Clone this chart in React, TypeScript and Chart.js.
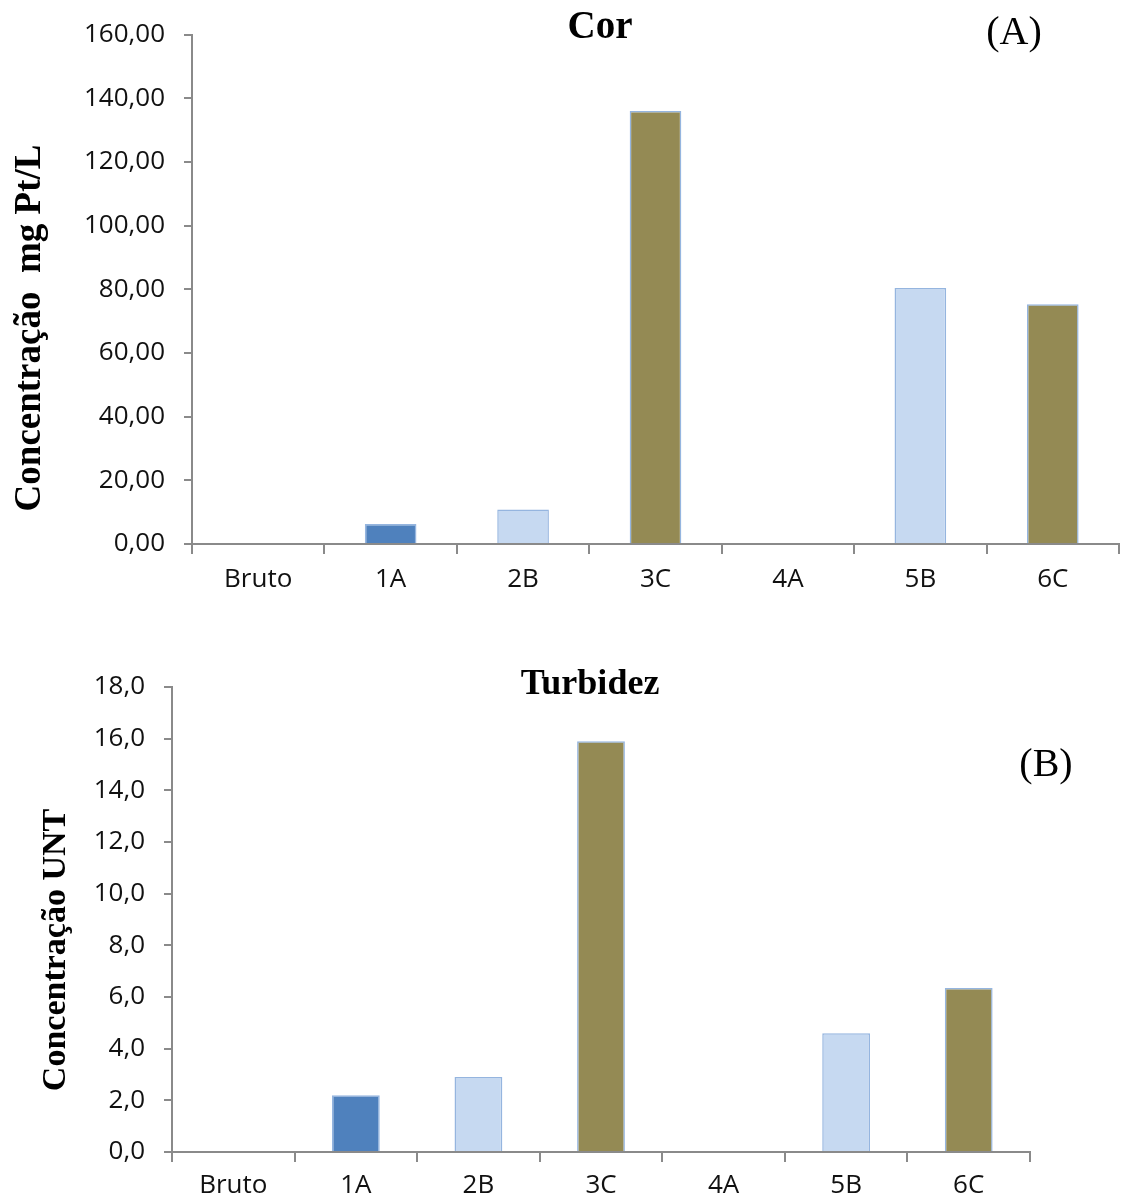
import React, { useEffect, useRef } from "react";
import { Chart, registerables } from "chart.js";

Chart.register(...registerables);

const categories = ["Bruto", "1A", "2B", "3C", "4A", "5B", "6C"];
const corValues = [0, 6.3, 10.8, 136.0, 0, 80.4, 75.3];
const turbidezValues = [0, 2.2, 2.9, 15.9, 0, 4.6, 6.35];
const barColors = ["#4F81BD", "#4F81BD", "#C6D9F1", "#948A54", "#4F81BD", "#C6D9F1", "#948A54"];
const corTicks = { min: 0, max: 160, step: 20, decimals: 2 };
const turbTicks = { min: 0, max: 18, step: 2, decimals: 1 };

const TICK_FONT = { family: "'Open Sans', 'Noto Sans', sans-serif", size: 26 };
const TICK_COLOR = "#111111";
const AXIS_COLOR = "#8a8a8a";

const textPlugin = {
  id: "extraText",
  afterDraw(chart: any, _args: any, opts: any) {
    const ctx = chart.ctx;
    for (const t of (opts && opts.items) || []) {
      ctx.save();
      ctx.translate(t.x, t.y);
      if (t.rotate) ctx.rotate(t.rotate);
      ctx.font = t.font;
      ctx.fillStyle = t.color || "#000";
      ctx.textAlign = "center";
      ctx.textBaseline = "middle";
      ctx.fillText(t.text, 0, 0);
      ctx.restore();
    }
  },
};

function makeConfig(
  values: number[],
  ticksDef: { min: number; max: number; step: number; decimals: number },
  yWidth: number,
  xHeight: number,
  padding: any,
  labelPad: number,
  items: any[]
): any {
  return {
    type: "bar",
    data: {
      labels: categories,
      datasets: [
        {
          data: values,
          backgroundColor: barColors,
          borderColor: "#95B5DF",
          borderWidth: 1.5,
          barPercentage: 0.39,
          categoryPercentage: 1,
        },
      ],
    },
    plugins: [textPlugin],
    options: {
      animation: false,
      responsive: false,
      maintainAspectRatio: false,
      layout: { padding },
      plugins: {
        legend: { display: false },
        tooltip: { enabled: false },
        title: { display: false },
        extraText: { items },
      },
      scales: {
        x: {
          offset: true,
          grid: {
            offset: true,
            drawOnChartArea: false,
            drawTicks: true,
            tickLength: 10,
            color: AXIS_COLOR,
            lineWidth: 2,
          },
          border: { display: true, color: AXIS_COLOR, width: 2 },
          ticks: { color: TICK_COLOR, font: TICK_FONT, padding: labelPad, maxRotation: 0, autoSkip: false },
          afterFit: (s: any) => {
            s.height = xHeight;
          },
        },
        y: {
          min: ticksDef.min,
          max: ticksDef.max,
          grid: {
            drawOnChartArea: false,
            drawTicks: true,
            tickLength: 8,
            color: AXIS_COLOR,
            lineWidth: 2,
          },
          border: { display: true, color: AXIS_COLOR, width: 2 },
          ticks: {
            stepSize: ticksDef.step,
            color: TICK_COLOR,
            font: TICK_FONT,
            padding: 19,
            callback: (v: any) => Number(v).toFixed(ticksDef.decimals).replace(".", ","),
          },
          afterFit: (s: any) => {
            s.width = yWidth;
          },
        },
      },
    },
  };
}

function BarChart({ config, width, height, top }: { config: any; width: number; height: number; top: number }) {
  const ref = useRef<HTMLCanvasElement | null>(null);
  useEffect(() => {
    if (!ref.current) return;
    const c = new Chart(ref.current, config);
    return () => c.destroy();
  }, [config]);
  return (
    <canvas
      ref={ref}
      width={width}
      height={height}
      style={{ position: "absolute", left: 0, top, width, height, display: "block" }}
    />
  );
}

const serifBold = (size: number) => `bold ${size}px 'Liberation Serif', 'DejaVu Serif', serif`;
const serif = (size: number) => `${size}px 'Liberation Serif', 'DejaVu Serif', serif`;

const configA = makeConfig(corValues, corTicks, 192, 66, { top: 32, right: 2, left: 0, bottom: 0 }, 10, [
  { text: "Cor", x: 600, y: 28, font: serifBold(39) },
  { text: "(A)", x: 1014, y: 33, font: serif(40) },
  { text: "Concentração  mg Pt/L", x: 30, y: 328, font: serifBold(37), rotate: -Math.PI / 2 },
]);

const configB = makeConfig(turbidezValues, turbTicks, 172, 46, { top: 77, right: 91, left: 0, bottom: 0 }, 8, [
  { text: "Turbidez", x: 590, y: 75, font: serifBold(36) },
  { text: "(B)", x: 1046, y: 155, font: serif(40) },
  { text: "Concentração UNT", x: 56, y: 340, font: serifBold(34), rotate: -Math.PI / 2 },
]);

export default function App() {
  return (
    <div style={{ position: "absolute", left: 0, top: 0, width: 1121, height: 1198, background: "#fff", overflow: "hidden" }}>
      <BarChart config={configA} width={1121} height={610} top={0} />
      <BarChart config={configB} width={1121} height={588} top={610} />
    </div>
  );
}
